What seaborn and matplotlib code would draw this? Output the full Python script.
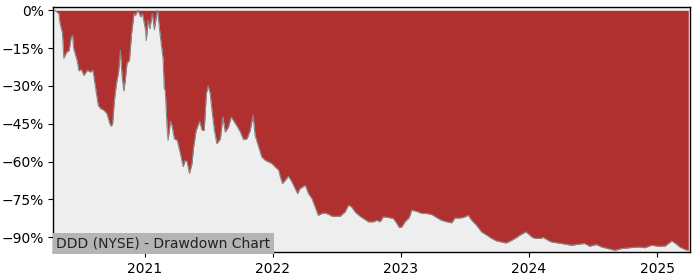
import pandas as pd
import numpy as np
import matplotlib
matplotlib.use("Agg")
import matplotlib.pyplot as plt
import matplotlib.dates as mdates
from matplotlib.ticker import MultipleLocator, FuncFormatter
import seaborn as sns

title = "DDD (NYSE) - Drawdown Chart"

dates = [
    "2020-04-20", "2020-05-02", "2020-05-05", "2020-05-12", "2020-05-16", "2020-05-24", "2020-05-31",
    "2020-06-06", "2020-06-10", "2020-06-13", "2020-06-23", "2020-06-28", "2020-07-05", "2020-07-12",
    "2020-07-22", "2020-07-31", "2020-08-07", "2020-08-14", "2020-08-22", "2020-08-29", "2020-09-07",
    "2020-09-16", "2020-09-24", "2020-09-28", "2020-10-02", "2020-10-07", "2020-10-13", "2020-10-19",
    "2020-10-24", "2020-10-29", "2020-11-03", "2020-11-07", "2020-11-12", "2020-11-19", "2020-11-25",
    "2020-12-02", "2020-12-06", "2020-12-13", "2020-12-21", "2020-12-26",
    "2021-01-04", "2021-01-06", "2021-01-11", "2021-01-16", "2021-01-23", "2021-01-29", "2021-02-04",
    "2021-02-07", "2021-02-13", "2021-02-23", "2021-02-26", "2021-03-01", "2021-03-06", "2021-03-09",
    "2021-03-16", "2021-03-20", "2021-03-27", "2021-04-04", "2021-04-13", "2021-04-21", "2021-04-27",
    "2021-05-02", "2021-05-09", "2021-05-16", "2021-05-21", "2021-05-28", "2021-06-07", "2021-06-14",
    "2021-06-20", "2021-06-26", "2021-07-01", "2021-07-07", "2021-07-12", "2021-07-19", "2021-07-26",
    "2021-08-05", "2021-08-12", "2021-08-19", "2021-08-28", "2021-09-05", "2021-09-14", "2021-09-23",
    "2021-10-01", "2021-10-10", "2021-10-20", "2021-10-29", "2021-11-06", "2021-11-12", "2021-11-22",
    "2021-12-01", "2021-12-11", "2021-12-20", "2021-12-30",
    "2022-01-08", "2022-01-18", "2022-01-23", "2022-01-29", "2022-02-06", "2022-02-15", "2022-02-25",
    "2022-03-06", "2022-03-13", "2022-03-20", "2022-03-28", "2022-04-04", "2022-04-13", "2022-04-23",
    "2022-05-02", "2022-05-11", "2022-05-21", "2022-05-30", "2022-06-09", "2022-06-19", "2022-06-28",
    "2022-07-12", "2022-07-26", "2022-08-05", "2022-08-14", "2022-08-24", "2022-09-07", "2022-09-21",
    "2022-10-01", "2022-10-15", "2022-10-25", "2022-11-03", "2022-11-12", "2022-11-27", "2022-12-11",
    "2022-12-21", "2022-12-28",
    "2023-01-04", "2023-01-13", "2023-01-25", "2023-02-01", "2023-02-11", "2023-02-20", "2023-03-02",
    "2023-03-16", "2023-03-30", "2023-04-13", "2023-04-27", "2023-05-12", "2023-05-26", "2023-06-04",
    "2023-06-17", "2023-06-28", "2023-07-12", "2023-07-22", "2023-08-05", "2023-08-19", "2023-09-03",
    "2023-09-17", "2023-10-01", "2023-10-15", "2023-10-28", "2023-11-08", "2023-11-22", "2023-12-06",
    "2023-12-23", "2023-12-29",
    "2024-01-09", "2024-01-18", "2024-02-01", "2024-02-11", "2024-02-20", "2024-03-05", "2024-04-03",
    "2024-05-01", "2024-05-20", "2024-06-08", "2024-06-22", "2024-07-11", "2024-07-26", "2024-08-13",
    "2024-09-02", "2024-09-21", "2024-10-19", "2024-11-12", "2024-11-26", "2024-12-15",
    "2025-01-04", "2025-01-23", "2025-02-11", "2025-02-22", "2025-03-06", "2025-03-21", "2025-03-30",
]

drawdown_pct = [
    0.0, -1.3, -5.0, -9.0, -19.0, -16.6, -16.0,
    -10.6, -10.0, -15.0, -20.0, -24.0, -23.4, -25.8,
    -23.8, -24.5, -23.8, -30.4, -37.7, -39.0, -39.6,
    -41.0, -45.0, -46.0, -45.0, -35.7, -29.0, -24.5,
    -15.9, -26.4, -32.0, -27.8, -21.0, -19.8, -9.3,
    -1.3, -2.0, 0.0, -2.6, -1.3,
    -8.0, -12.0, -4.0, -7.3, -1.3, -7.7, -2.0,
    0.0, -8.0, -19.5, -31.0, -31.7, -46.0, -51.5,
    -44.0, -45.6, -51.0, -51.5, -56.8, -62.0, -59.5,
    -60.0, -64.7, -60.8, -54.0, -47.6, -44.0, -47.6,
    -47.6, -33.0, -30.0, -33.0, -39.6, -47.6, -52.9,
    -51.0, -42.3, -48.3, -46.3, -42.3, -44.3, -46.3,
    -48.3, -51.3, -50.9, -47.6, -41.6, -49.6, -54.2,
    -58.2, -59.5, -60.1, -60.8,
    -62.1, -63.4, -66.1, -68.7, -67.4, -65.8, -68.1,
    -70.7, -72.7, -70.7, -70.0, -69.4, -72.7, -74.7,
    -78.0, -81.3, -80.6, -80.4, -80.9, -81.7, -81.7,
    -81.7, -80.0, -77.3, -78.0, -80.0, -81.7, -83.0,
    -83.9, -83.9, -83.3, -83.9, -81.9, -82.2, -82.6,
    -84.6, -86.2,
    -85.9, -83.9, -82.2, -79.3, -79.6, -80.0, -80.6,
    -80.6, -81.0, -82.2, -83.3, -83.9, -84.3, -82.4,
    -82.4, -82.2, -81.3, -83.3, -85.3, -87.9, -89.2,
    -90.5, -91.5, -91.9, -92.3, -91.6, -90.5, -89.2,
    -87.9, -88.5,
    -89.9, -90.5, -90.5, -90.1, -90.9, -91.9, -92.5,
    -93.2, -92.8, -92.5, -93.6, -92.9, -93.9, -94.5,
    -95.2, -94.5, -94.1, -93.9, -94.2, -93.2,
    -93.6, -93.5, -91.5, -92.5, -93.9, -94.9, -95.2,
]

year_ticks = ["2021-01-01", "2022-01-01", "2023-01-01", "2024-01-01", "2025-01-01"]
year_labels = ["2021", "2022", "2023", "2024", "2025"]

df = pd.DataFrame({"date": pd.to_datetime(dates), "dd": np.array(drawdown_pct) / 100.0})

sns.set_style("ticks")
plt.rcParams["font.family"] = ["DejaVu Sans"]

fig = plt.figure(figsize=(7, 2.8), dpi=100)
ax = fig.add_axes([0.0761, 0.0989, 0.9096, 0.8751])
ax.set_facecolor("#eeeeee")

red = "#b03030"
ax.fill_between(df["date"], df["dd"], 0, color=red, linewidth=0, zorder=2)
sns.lineplot(data=df, x="date", y="dd", ax=ax, color="#888888", linewidth=0.8, zorder=3)

ax.set_xlim(pd.Timestamp("2020-04-16"), pd.Timestamp("2025-04-04"))
ax.set_ylim(-0.96, 0.012)
ax.yaxis.set_major_locator(MultipleLocator(0.15))
ax.yaxis.set_major_formatter(FuncFormatter(lambda v, p: f"{v*100:.0f}%".replace("-", "\u2212")))
ax.set_xticks(pd.to_datetime(year_ticks))
ax.set_xticklabels(year_labels)
ax.set_xlabel("")
ax.set_ylabel("")
ax.tick_params(labelsize=10, colors="black", length=3.5)
for s in ax.spines.values():
    s.set_visible(True)
    s.set_color("black")
    s.set_linewidth(1.0)

ax.text(0.005, 0.035, title, transform=ax.transAxes, fontsize=10, color="#222222",
        va="center", ha="left", zorder=5,
        bbox=dict(facecolor="#b4b4b4", edgecolor="none", boxstyle="square,pad=0.25"))

fig.savefig("out.png", dpi=100)
